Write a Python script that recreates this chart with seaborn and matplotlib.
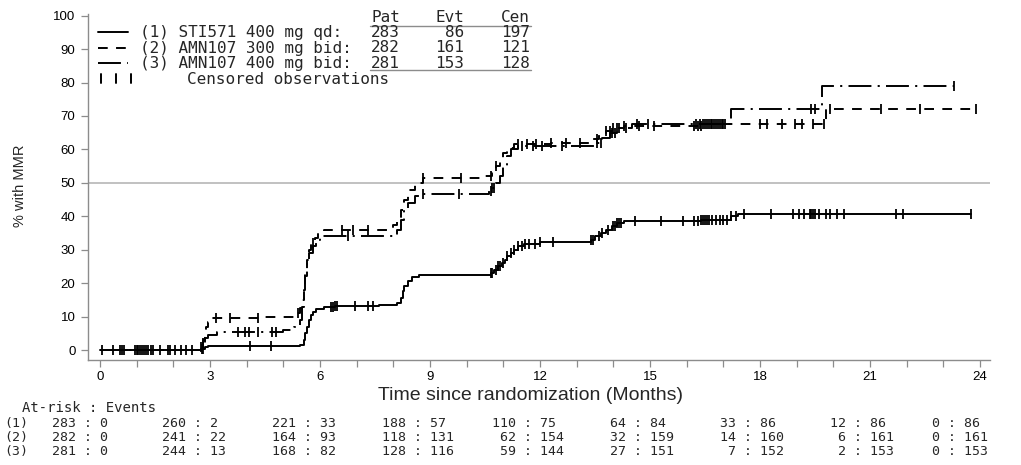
import numpy as np
import pandas as pd
import matplotlib
matplotlib.use("Agg")
import matplotlib.pyplot as plt
import seaborn as sns
from matplotlib import transforms
from matplotlib.lines import Line2D

# ---------------- data ----------------
arm_labels = ["(1) STI571 400 mg qd:", "(2) AMN107 300 mg bid:", "(3) AMN107 400 mg bid:"]
arm_pat = [283, 282, 281]
arm_evt = [86, 161, 153]
arm_cen = [197, 121, 128]
leg_header = ["Pat", "Evt", "Cen"]
cens_label = "Censored observations"

# Arm 1: STI571 400 mg qd (solid)
arm1_t = [0, 2.75, 2.85, 2.95, 5.45, 5.55, 5.6, 5.65, 5.7, 5.75, 5.8, 5.9, 6.1, 6.4, 7.6,
          8.1, 8.2, 8.25, 8.3, 8.4, 8.5, 8.7, 10.65, 10.75, 10.85, 10.95, 11.05, 11.1, 11.2,
          11.3, 11.4, 11.55, 12.0, 13.4, 13.5, 13.65, 13.8, 13.95, 14.1, 14.3, 16.4, 17.2,
          17.4, 23.75]
arm1_y = [0, 0.4, 0.8, 1.1, 1.5, 3, 5, 7, 9, 10.5, 11.5, 12.2, 12.8, 13.3, 13.6,
          14.0, 15.5, 17.5, 19, 20.5, 21.8, 22.5, 23, 24, 25, 26, 27, 28, 29,
          30, 31, 31.8, 32.2, 32.8, 34, 35, 36, 37, 38, 38.5, 39.0, 40.0,
          40.8, 40.8]
arm1_cens = [0.05, 0.35, 0.55, 0.65, 1.0, 1.1, 1.2, 1.3, 1.4, 1.65, 1.9, 2.05, 2.35, 2.78,
             2.82, 4.1, 4.65, 6.3, 6.35, 6.4, 6.45, 6.95, 7.3, 7.45, 10.65, 10.7, 10.8,
             10.85, 10.9, 11.0, 11.1, 11.2, 11.3, 11.4, 11.5, 11.6, 11.7, 11.85, 12.0,
             12.35, 13.4, 13.45, 13.6, 13.7, 13.85, 14.0, 14.05, 14.1, 14.15, 14.2, 14.6,
             15.3, 15.9, 16.2, 16.3, 16.4, 16.45, 16.5, 16.55, 16.6, 16.7, 16.8, 16.9,
             17.0, 17.1, 17.2, 17.35, 17.55, 18.3, 18.9, 19.05, 19.2, 19.35, 19.4, 19.45,
             19.5, 19.6, 19.8, 19.9, 20.1, 20.3, 21.7, 21.9, 23.75]

# Arm 2: AMN107 300 mg bid (short dashes)
arm2_t = [0, 2.75, 2.8, 2.85, 2.9, 2.95, 3.05, 4.5, 5.3, 5.45, 5.5, 5.55, 5.6, 5.65, 5.7,
          5.75, 5.85, 5.95, 6.1, 7.9, 8.0, 8.1, 8.2, 8.3, 8.4, 8.6, 8.8, 10.5, 10.7, 10.8,
          10.9, 11.0, 11.1, 11.3, 12.3, 13.4, 13.6, 13.8, 14.0, 14.3, 16.5, 19.8, 23.9]
arm2_y = [0, 1, 3, 5, 7, 8.5, 9.5, 10, 11, 12.5, 15, 19, 23, 27, 30,
          32, 33.5, 35, 36, 36.5, 37.5, 39, 42, 45, 48, 50, 51.5, 52, 53, 55,
          57, 59, 60.5, 61.5, 62, 63, 64.5, 65.5, 66.5, 67, 67.5, 72, 72]
arm2_cens = [0.95, 1.15, 1.45, 2.2, 2.75, 3.15, 3.55, 4.3, 5.4, 5.8, 6.6, 6.9, 7.3, 8.8,
             9.85, 10.65, 10.8, 11.4, 11.65, 11.9, 12.3, 12.7, 13.1, 13.55, 13.8, 13.9,
             14.0, 14.1, 14.3, 14.7, 15.1, 16.2, 16.3, 16.4, 16.5, 16.6, 16.7, 16.8, 16.9,
             17.0, 18.0, 18.2, 18.6, 18.95, 19.15, 19.45, 19.75, 19.9, 21.3, 22.35, 23.9]

# Arm 3: AMN107 400 mg bid (long dash - dot)
arm3_t = [0, 2.8, 2.85, 2.95, 3.2, 5.0, 5.3, 5.45, 5.5, 5.55, 5.6, 5.65, 5.7, 5.8, 5.9,
          6.0, 8.0, 8.1, 8.2, 8.3, 8.4, 8.6, 8.8, 10.6, 10.7, 10.8, 10.9, 11.0, 11.1,
          11.2, 11.4, 13.5, 13.7, 13.9, 14.1, 14.5, 17.2, 19.7, 23.3]
arm3_y = [0, 2, 3.5, 4.5, 5.3, 6, 7, 9, 13, 18, 22, 26, 29, 31, 33,
          34, 34.5, 36, 39, 42, 44, 46, 46.8, 47.5, 48.5, 50, 52, 55, 58,
          60, 61, 62, 63.5, 65, 66.5, 67.5, 72, 79, 79]
arm3_cens = [0.6, 1.05, 1.25, 1.85, 2.5, 2.8, 3.75, 3.95, 4.05, 4.3, 4.7, 4.8, 6.75, 8.8,
             9.8, 10.65, 10.7, 10.75, 11.5, 11.8, 12.05, 12.6, 13.55, 13.65, 13.95,
             14.05, 14.15, 14.35, 14.65, 14.95, 16.25, 16.35, 16.45, 16.55, 16.65,
             16.75, 16.85, 16.95, 17.05, 19.4, 19.5, 23.3]

risk_months = [0, 3, 6, 9, 12, 15, 18, 21, 24]
risk1_n = [283, 260, 221, 188, 110, 64, 33, 12, 0]
risk1_e = [0, 2, 33, 57, 75, 84, 86, 86, 86]
risk2_n = [282, 241, 164, 118, 62, 32, 14, 6, 0]
risk2_e = [0, 22, 93, 131, 154, 159, 160, 161, 161]
risk3_n = [281, 244, 168, 128, 59, 27, 7, 2, 0]
risk3_e = [0, 13, 82, 116, 144, 151, 152, 153, 153]
risk_title = "At-risk : Events"

x_ticks = [0, 3, 6, 9, 12, 15, 18, 21, 24]
y_ticks = [0, 10, 20, 30, 40, 50, 60, 70, 80, 90, 100]
x_title = "Time since randomization (Months)"
y_title = "% with MMR"
ref_level = 50

# ---------------- style ----------------
sns.set_theme(style="white")
plt.rcParams['lines.scale_dashes'] = False
plt.rcParams['font.family'] = ['Liberation Sans', 'DejaVu Sans']
MONO = ['DejaVu Sans Mono']

W, H = 1021, 465
fig = plt.figure(figsize=(W / 100, H / 100), dpi=100)
ax = fig.add_axes([88 / W, (H - 360) / H, 902 / W, 346 / H])

styles = ['-', (0, (7, 6)), (0, (16.5, 4.5, 1.5, 4.5))]
arms = [(arm1_t, arm1_y, arm1_cens), (arm2_t, arm2_y, arm2_cens), (arm3_t, arm3_y, arm3_cens)]

for (t, y, cens), ls in zip(arms, styles):
    df = pd.DataFrame({"t": t, "y": y})
    sns.lineplot(data=df, x="t", y="y", drawstyle="steps-post", color="black",
                 linewidth=1.4, linestyle=ls, estimator=None, errorbar=None, ax=ax)
    idx = np.searchsorted(np.array(t), np.array(cens), side='right') - 1
    cy = np.array(y)[idx]
    sns.scatterplot(x=cens, y=cy, marker='|', s=60, color='black', linewidth=1.3,
                    ax=ax, zorder=3)

ax.axhline(ref_level, color='#b0b0b0', linewidth=1.1, zorder=0)

ax.set_xlim(-0.327, 24.27)
ax.set_ylim(-2.99, 100.5)
ax.set_xticks(x_ticks)
ax.set_xticks(range(0, 25), minor=True)
ax.set_yticks(y_ticks)
ax.set_xlabel("")
ax.set_ylabel("")
ax.tick_params(axis='both', which='both', direction='out', length=5, width=0.9,
               color='#8c8c8c', labelsize=9.5, labelcolor='black', bottom=True, left=True)
ax.tick_params(axis='x', pad=3)
ax.tick_params(axis='y', pad=4)
sns.despine(ax=ax)
for s in ['left', 'bottom']:
    ax.spines[s].set_color('#8c8c8c')
    ax.spines[s].set_linewidth(1.0)


def fy(ypix):
    return (H - ypix) / H


fig.text(530 / W, fy(395), x_title, ha='center', va='center', fontsize=14)
fig.text(20 / W, fy(186), y_title, ha='center', va='center', rotation=90, fontsize=10.5)

# ---------------- legend block ----------------
leg_rows = [32.5, 48, 63.5, 79]
lx0, lx1 = 98 / W, 128 / W
for ry, ls in zip(leg_rows[:3], styles):
    fig.add_artist(Line2D([lx0, lx1], [fy(ry), fy(ry)], color='black', linewidth=1.4,
                          linestyle=ls))
for cx in [101, 116, 131]:
    fig.add_artist(Line2D([cx / W, cx / W], [fy(leg_rows[3] - 4.5), fy(leg_rows[3] + 4.5)],
                          color='black', linewidth=1.4))

LEG_FS = 11.5
text_x = 140 / W
col_right = [400, 464, 530]
for cx, h in zip(col_right, leg_header):
    fig.text(cx / W, fy(17), h, family=MONO, fontsize=LEG_FS, ha='right', va='center')
for ry, lab, p, e, c in zip(leg_rows, arm_labels, arm_pat, arm_evt, arm_cen):
    fig.text(text_x, fy(ry), lab, family=MONO, fontsize=LEG_FS, ha='left', va='center')
    for cx, v in zip(col_right, (p, e, c)):
        fig.text(cx / W, fy(ry), str(v), family=MONO, fontsize=LEG_FS, ha='right', va='center')
fig.text(187 / W, fy(leg_rows[3]), cens_label, family=MONO, fontsize=LEG_FS,
         ha='left', va='center')
for uy in [26, 70.5]:
    fig.add_artist(Line2D([370 / W, 531 / W], [fy(uy), fy(uy)], color='#8c8c8c', linewidth=1.0))

# ---------------- at-risk table ----------------
TAB_FS = 9.5
fig.text(22 / W, fy(408), risk_title, family=MONO, fontsize=10, ha='left', va='center')
blend = transforms.blended_transform_factory(ax.transData, fig.transFigure)
risk_rows = [(risk1_n, risk1_e), (risk2_n, risk2_e), (risk3_n, risk3_e)]
col_max = [max(a, b, c) for a, b, c in zip(risk1_n, risk2_n, risk3_n)]
for i, (ns, es) in enumerate(risk_rows):
    ry = 423 + 14 * i
    fig.text(4 / W, fy(ry), f"({i + 1})", family=MONO, fontsize=TAB_FS, ha='left', va='center')
    for m, n, e, cm in zip(risk_months, ns, es, col_max):
        w = 3 if cm > 0 else 1
        ax.text(m - 1.3, fy(ry), f"{n:>{w}} : {e}", transform=blend, family=MONO,
                fontsize=TAB_FS, ha='left', va='center', clip_on=False)

fig.savefig("out.png", dpi=100)
